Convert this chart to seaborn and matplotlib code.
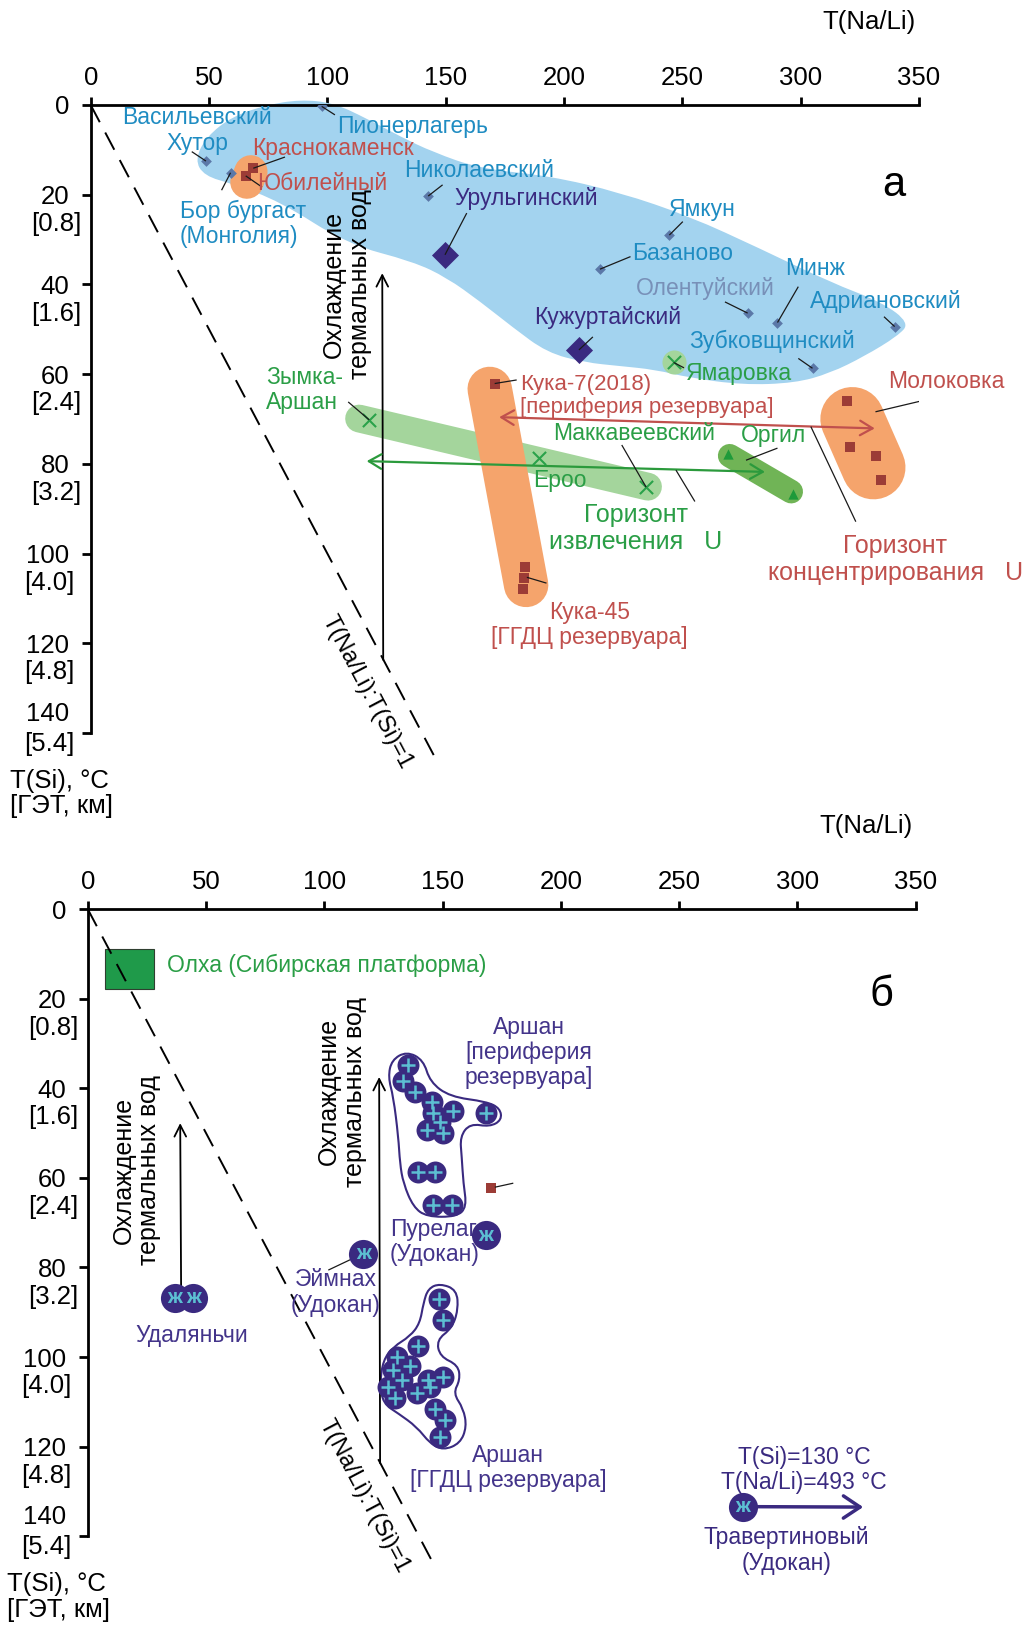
import numpy as np
import pandas as pd
import matplotlib
matplotlib.use("Agg")
import matplotlib.pyplot as plt
import matplotlib.patches as mpatches
from matplotlib.path import Path
import seaborn as sns

sns.set_theme(style="white")
plt.rcParams["font.family"] = ["Liberation Sans", "DejaVu Sans"]
plt.rcParams["text.color"] = "black"
plt.rcParams["axes.edgecolor"] = "black"

# ------------------------------------------------------------------ data
x_ticks = [0, 50, 100, 150, 200, 250, 300, 350]
y_ticks = [0, 20, 40, 60, 80, 100, 120, 140]
y_depth = ["", "[0.8]", "[1.6]", "[2.4]", "[3.2]", "[4.0]", "[4.8]", "[5.4]"]
ratio_line = [0, 147]          # T(Na/Li) = T(Si)

# panel a: small diamonds (Transbaikalia / Mongolia)
a_dia_names = ["Пионерлагерь", "Хутор", "Бор бургаст", "Николаевский", "Ямкун",
               "Базаново", "Олентуйский", "Минж", "Адриановский", "Зубковщинский"]
a_dia_x = [97.6, 48.7, 59.1, 142.6, 244.5, 215.2, 277.6, 290.2, 339.7, 305.0]
a_dia_y = [0.3, 12.5, 15.1, 20.3, 29.0, 36.6, 46.4, 48.5, 49.4, 58.7]
# panel a: large diamonds
a_big_names = ["Урульгинский", "Кужуртайский"]
a_big_x = [149.7, 206.3]
a_big_y = [33.4, 54.6]
# panel a: red squares
a_sq_names = ["Краснокаменск", "Юбилейный", "Кука-7", "Кука-45", "Кука-45", "Кука-45",
              "Молоковка", "Молоковка", "Молоковка", "Молоковка"]
a_sq_x = [68.7, 65.5, 170.7, 183.4, 183.0, 182.6, 319.7, 320.9, 332.0, 333.8]
a_sq_y = [14.1, 15.8, 62.1, 102.9, 105.5, 108.0, 65.9, 76.2, 78.3, 83.5]
# panel a: green crosses
a_x_names = ["Зымка-Аршан", "Ероо", "Маккавеевский", "Ямаровка"]
a_x_x = [117.7, 189.6, 234.7, 246.3]
a_x_y = [70.2, 78.8, 85.2, 57.4]
# panel a: triangles (Оргил)
a_tri_x = [269.5, 296.8]
a_tri_y = [77.7, 86.7]

# panel b: Аршан, periphery of reservoir
b_per_x = [135.2, 133.1, 138.3, 145.4, 146.1, 154.5, 148.9, 143.3, 150.3, 168.4,
           139.7, 146.8, 146.1, 153.8]
b_per_y = [34.8, 38.5, 40.8, 43.0, 45.6, 45.2, 47.5, 49.3, 50.1, 45.6,
           58.6, 58.6, 66.1, 66.1]
# panel b: Аршан, reservoir
b_res_x = [148.6, 150.0, 139.7, 130.6, 136.2, 129.2, 132.7, 127.0, 129.9, 144.0,
           150.3, 139.1, 144.7, 146.8, 151.0, 149.0]
b_res_y = [87.1, 91.7, 97.5, 99.9, 101.9, 102.9, 105.1, 106.6, 109.2, 105.1,
           104.4, 108.1, 106.6, 111.5, 114.1, 117.8]
# panel b: Udokan-type points (ж)
b_zh_names = ["Пурелаг", "Эймнах", "Удаляньчи", "Удаляньчи", "Травертиновый"]
b_zh_x = [168.3, 116.5, 36.9, 44.6, 276.8]
b_zh_y = [72.8, 76.9, 86.8, 86.8, 133.4]
# panel b: single red square, Олха range
b_sq_x = [170.3]
b_sq_y = [62.3]
olkha_x = [7.3, 28.0]
olkha_y = [9.0, 17.9]
travertine_arrow_x = [276.8, 327.8]

# ------------------------------------------------------------------ colours
C_BLUE_TXT = "#1f8cc2"
C_DIAM = "#5b78a8"
C_PURPLE = "#3a2a80"
C_PURPLE_TXT = "#43348a"
C_RED_TXT = "#c0504d"
C_RED_SQ = "#9c3c36"
C_GREEN_TXT = "#2a9e46"
C_GREEN_ARR = "#2b9a3c"
C_ORANGE = "#f5a46c"
C_BLUE_BLOB = "#a3d3ef"
C_LGREEN = "#a4d59c"
C_DGREEN = "#70b456"
C_CYAN = "#5cbfd2"
C_OLENT = "#7890b8"

FS_TICK = 18.5
FS_LAB = 16.5
FS_BIG = 18


def smooth_path(xs, ys):
    pts = np.column_stack([xs, ys])
    n = len(pts)
    mids = (pts + np.roll(pts, -1, axis=0)) / 2.0
    verts = [mids[-1]]
    codes = [Path.MOVETO]
    for i in range(n):
        verts += [pts[i], mids[i]]
        codes += [Path.CURVE3, Path.CURVE3]
    verts.append(mids[-1])
    codes.append(Path.CLOSEPOLY)
    return Path(verts, codes)


def setup(ax):
    ax.set_xlim(0, 350)
    ax.set_ylim(150, 0)
    ax.set_facecolor("none")
    ax.grid(False)
    for s in ["right", "bottom"]:
        ax.spines[s].set_visible(False)
    for s in ["left", "top"]:
        ax.spines[s].set_linewidth(2.0)
        ax.spines[s].set_color("black")
    ax.spines["left"].set_bounds(0, 140)
    ax.spines["top"].set_bounds(0, 350)
    ax.xaxis.set_ticks_position("top")
    ax.set_xticks(x_ticks)
    ax.set_xticklabels([str(v) for v in x_ticks])
    ax.set_yticks(y_ticks)
    # the last (140) label sits above its tick in the original -> drawn separately
    ax.set_yticklabels([str(v) if v != y_ticks[-1] else "" for v in y_ticks])
    ax.tick_params(axis="x", which="both", direction="out", length=5.5, width=2,
                   pad=5, labelsize=FS_TICK, top=True, bottom=False,
                   labeltop=True, labelbottom=False, color="black", labelcolor="black")
    ax.tick_params(axis="y", which="both", direction="out", length=6.5, width=2,
                   pad=9, labelsize=FS_TICK, left=True, right=False,
                   color="black", labelcolor="black")
    ax.set_xlabel("")
    ax.set_ylabel("")
    ax.annotate(str(y_ticks[-1]), xy=(0, y_ticks[-1]), xycoords="data",
                xytext=(-15.5, 14), textcoords="offset points", ha="right",
                va="center", fontsize=FS_TICK, annotation_clip=False)
    for v, d in zip(y_ticks, y_depth):
        if d:
            off = -25 if v < 100 else -29.5
            dy = -21 if v != y_ticks[-1] else -8
            ax.annotate(d, xy=(0, v), xycoords="data", xytext=(off, dy),
                        textcoords="offset points", ha="center", va="center",
                        fontsize=FS_TICK, annotation_clip=False)
    # dashed ratio line and its label
    ax.plot(ratio_line, ratio_line, color="black", lw=1.4, ls=(0, (10, 6)),
            zorder=3, clip_on=False)
    ax.text(116.6, 131.0, "T(Na/Li):T(Si)=1", rotation=-62.2, ha="center",
            va="center", fontsize=17, rotation_mode="anchor")
    # axis titles
    ax.text(329, -18.5, "T(Na/Li)", ha="center", va="center", fontsize=FS_TICK)
    ax.text(-34, 153.5, "T(Si), °C\n[ГЭТ, км]", ha="left", va="center",
            fontsize=FS_TICK, linespacing=1.1)
    # cooling arrow
    ax.annotate("", xy=(123.2, 37.5), xytext=(123.6, 123.7),
                arrowprops=dict(arrowstyle="->,head_length=0.55,head_width=0.28",
                                lw=1.3, color="black", shrinkA=0, shrinkB=0,
                                mutation_scale=15), zorder=4)


def leader(ax, p1, p2, color="#1a1a1a", lw=0.9):
    ax.plot([p1[0], p2[0]], [p1[1], p2[1]], color=color, lw=lw, zorder=6,
            solid_capstyle="butt")


fig = plt.figure(figsize=(10.26, 16.26), dpi=100)
W, H = 1026.0, 1626.0
ax_a = fig.add_axes([90.7 / W, 1 - 777.8 / H, 828.3 / W, 672.8 / H])
ax_b = fig.add_axes([87.7 / W, 1 - 1581.0 / H, 828.0 / W, 672.0 / H])

# ================================================================ PANEL A
ax = ax_a
setup(ax)

# blue field
blob_x = [44.0, 49, 60, 74.4, 88.4, 102.4, 116.6, 130.7, 144.6, 164.5, 194, 223.6,
          253, 282.8, 312.4, 334.5, 346, 341, 327, 312.4, 297.5, 275.4, 253, 238.4,
          223.6, 208.8, 192.8, 178.4, 164.5, 150.5, 136.2, 108.3, 80, 60, 48]
blob_y = [12.2, 7.0, 2.5, 0.0, -1.2, -0.5, 3.0, 7.0, 10.5, 14.2, 15.8, 19.5,
          24.8, 32.0, 39.5, 44.0, 48.6, 51.5, 56.0, 59.8, 62.0, 62.4, 60.8, 59.0,
          58.2, 57.4, 55.2, 49.6, 43.8, 38.5, 34.9, 31.0, 21.5, 17.6, 15.8]
ax.add_patch(mpatches.PathPatch(smooth_path(blob_x, blob_y), facecolor=C_BLUE_BLOB,
                                edgecolor="none", zorder=1, clip_on=False))

# bands (green and orange fields)
ax.plot([113.4, 235.5], [69.9, 85.1], color=C_LGREEN, lw=20, solid_capstyle="round",
        zorder=1.2)
ax.plot([270.0, 296.0], [78.2, 86.2], color=C_DGREEN, lw=17, solid_capstyle="round",
        zorder=1.2)
ax.plot([168.6, 184.0], [63.3, 107.0], color=C_ORANGE, lw=32, solid_capstyle="round",
        zorder=1.4)
ax.plot([321.8, 330.8], [70.0, 80.8], color=C_ORANGE, lw=46, solid_capstyle="round",
        zorder=1.4)
ax.plot([67.7, 66.0], [14.9, 17.2], color=C_ORANGE, lw=24, solid_capstyle="round",
        zorder=1.4)
ax.scatter([246.3], [57.4], s=300, color=C_LGREEN, zorder=1.5, linewidths=0)

# arrows
ax.annotate("", xy=(172.6, 69.6), xytext=(331.3, 72.1),
            arrowprops=dict(arrowstyle="<->,head_length=0.6,head_width=0.35",
                            lw=1.6, color=C_RED_TXT, shrinkA=0, shrinkB=0,
                            mutation_scale=15), zorder=4)
ax.annotate("", xy=(116.6, 79.4), xytext=(284.9, 81.8),
            arrowprops=dict(arrowstyle="<->,head_length=0.6,head_width=0.35",
                            lw=1.6, color=C_GREEN_ARR, shrinkA=0, shrinkB=0,
                            mutation_scale=15), zorder=4)

# markers
sns.scatterplot(x=a_dia_x, y=a_dia_y, ax=ax, marker="D", s=30, color=C_DIAM,
                linewidth=0, legend=False, zorder=5)
sns.scatterplot(x=a_big_x, y=a_big_y, ax=ax, marker="D", s=190, color=C_PURPLE,
                linewidth=0, legend=False, zorder=5)
sns.scatterplot(x=a_sq_x, y=a_sq_y, ax=ax, marker="s", s=45, color=C_RED_SQ,
                linewidth=0, legend=False, zorder=5)
sns.scatterplot(x=a_tri_x, y=a_tri_y, ax=ax, marker="^", s=55, color="#1e9a3a",
                linewidth=0, legend=False, zorder=5)
ax.scatter(a_x_x, a_x_y, marker="x", s=90, color="#2aa24a", linewidths=1.5, zorder=5)

# labels
labels_a = [
    ("Васильевский", 44.9, 2.7, C_BLUE_TXT, "center", FS_LAB),
    ("Пионерлагерь", 136.2, 4.8, C_BLUE_TXT, "center", FS_LAB),
    ("Хутор", 45.1, 8.6, C_BLUE_TXT, "center", FS_LAB),
    ("Краснокаменск", 102.4, 9.7, C_RED_TXT, "center", FS_LAB),
    ("Юбилейный", 97.7, 17.5, C_RED_TXT, "center", FS_LAB),
    ("Бор бургаст\n(Монголия)", 37.7, 26.5, C_BLUE_TXT, "left", FS_LAB),
    ("Николаевский", 164.0, 14.5, C_BLUE_TXT, "center", FS_LAB),
    ("Урульгинский", 183.9, 20.8, C_PURPLE, "center", FS_LAB),
    ("Кужуртайский", 218.3, 47.4, C_PURPLE, "center", FS_LAB),
    ("Ямкун", 258.3, 23.4, C_BLUE_TXT, "center", FS_LAB),
    ("Базаново", 250.2, 33.2, C_BLUE_TXT, "center", FS_LAB),
    ("Олентуйский", 259.8, 41.0, C_OLENT, "center", FS_LAB),
    ("Минж", 306.0, 36.5, C_BLUE_TXT, "center", FS_LAB),
    ("Адриановский", 336.0, 43.7, C_BLUE_TXT, "center", FS_LAB),
    ("Зубковщинский", 287.9, 52.8, C_BLUE_TXT, "center", FS_LAB),
    ("Ямаровка", 273.9, 59.8, C_GREEN_TXT, "center", FS_LAB),
    ("Кука-7(2018)\n[периферия резервуара]", 181.4, 64.9, C_RED_TXT, "left", 16),
    ("Молоковка", 361.5, 61.7, C_RED_TXT, "center", FS_LAB),
    ("Маккавеевский", 229.5, 73.2, C_GREEN_TXT, "center", FS_LAB),
    ("Оргил", 288.7, 73.6, C_GREEN_TXT, "center", FS_LAB),
    ("Ероо", 198.4, 83.8, C_GREEN_TXT, "center", FS_LAB),
    ("Кука-45\n[ГГДЦ резервуара]", 210.9, 116.0, C_RED_TXT, "center", FS_LAB),
    ("Зымка-\nАршан", 74.0, 63.6, C_GREEN_TXT, "left", FS_LAB),
]
for t, x, y, c, ha, fs in labels_a:
    ax.text(x, y, t, color=c, ha=ha, va="center", fontsize=fs, zorder=7,
            multialignment=ha, linespacing=1.12)
ax.text(230.4, 94.5, "Горизонт\nизвлечения   U", color=C_GREEN_TXT, ha="center",
        va="center", fontsize=FS_BIG, linespacing=1.15, zorder=7)
ax.text(340.0, 101.4, "Горизонт\nконцентрирования   U", color=C_RED_TXT, ha="center",
        va="center", fontsize=FS_BIG, linespacing=1.15, zorder=7)
ax.text(339.5, 17.8, "а", ha="center", va="center", fontsize=30)
ax.text(108.4, 40.0, "Охлаждение\nтермальных вод", rotation=90, ha="center",
        va="center", fontsize=18, multialignment="center", linespacing=1.1)

leaders_a = [
    ((103.2, 2.2), (97.6, 0.3)), ((42.7, 10.4), (48.7, 12.5)),
    ((82.1, 11.6), (68.7, 14.1)), ((72.4, 18.3), (65.5, 15.8)),
    ((55.3, 19.0), (59.1, 15.1)), ((148.7, 17.8), (142.6, 20.3)),
    ((158.9, 24.1), (149.7, 33.4)), ((212.2, 51.7), (206.3, 54.6)),
    ((250.2, 26.0), (244.5, 29.0)), ((228.1, 33.8), (215.2, 36.6)),
    ((268.0, 43.9), (277.6, 46.4)), ((299.0, 40.5), (290.2, 48.5)),
    ((335.2, 47.2), (339.7, 49.4)), ((299.0, 56.5), (305.0, 58.7)),
    ((250.7, 58.6), (246.3, 57.4)), ((180.0, 61.3), (170.7, 62.1)),
    ((351.6, 65.9), (331.6, 68.4)), ((224.4, 75.8), (234.7, 85.2)),
    ((290.2, 76.5), (276.9, 79.2)), ((255.3, 88.4), (247.3, 81.4)),
    ((323.3, 92.9), (304.3, 71.7)), ((192.6, 106.6), (184.3, 105.3)),
    ((108.8, 66.2), (117.7, 70.2)),
]
for p1, p2 in leaders_a:
    leader(ax, p1, p2)

# ================================================================ PANEL B
ax = ax_b
setup(ax)

ax.add_patch(mpatches.Rectangle((olkha_x[0], olkha_y[0]), olkha_x[1] - olkha_x[0],
                                olkha_y[1] - olkha_y[0], facecolor="#1f9a4a",
                                edgecolor="#2f3f30", lw=0.8, zorder=2))

per_out_x = [128.5, 134.8, 141.9, 144.7, 153.1, 168.6, 174.3, 175.0, 170.0, 161.6, 157.4,
             158.1, 158.8, 160.2, 156.0, 143.3, 137.6, 133.4, 132.0, 131.3, 129.2, 127.0]
per_out_y = [33.7, 31.8, 33.7, 38.6, 41.9, 43.0, 44.5, 47.1, 48.6, 47.9, 50.8,
             55.3, 61.2, 66.5, 68.7, 68.7, 66.5, 61.2, 56.8, 50.8, 41.9, 37.5]
res_out_x = [143.9, 148.9, 156.0, 156.6, 153.9, 147.5, 148.9, 156.6, 157.4, 154.5, 158.8,
             160.2, 157.4, 150.3, 144.7, 139.1, 131.3, 124.9, 123.5, 124.9, 129.2, 136.2,
             140.4, 141.9]
res_out_y = [84.7, 83.6, 85.0, 89.5, 93.6, 96.2, 99.9, 101.8, 105.1, 108.1, 111.5,
             115.6, 119.3, 120.8, 119.3, 115.6, 112.6, 110.4, 105.9, 100.7, 97.7, 95.4,
             92.5, 88.0]
for ox, oy in [(per_out_x, per_out_y), (res_out_x, res_out_y)]:
    ax.add_patch(mpatches.PathPatch(smooth_path(ox, oy), facecolor="none",
                                    edgecolor=C_PURPLE, lw=1.5, zorder=2))

# arrows
ax.annotate("", xy=(39.1, 47.8), xytext=(39.5, 86.0),
            arrowprops=dict(arrowstyle="->,head_length=0.55,head_width=0.28",
                            lw=1.3, color="black", shrinkA=0, shrinkB=0,
                            mutation_scale=15), zorder=4)
ax.annotate("", xy=(travertine_arrow_x[1], 133.5), xytext=(travertine_arrow_x[0], 133.4),
            arrowprops=dict(arrowstyle="->,head_length=0.6,head_width=0.4",
                            lw=2.5, color=C_PURPLE, shrinkA=0, shrinkB=0,
                            mutation_scale=20), zorder=4)

sns.scatterplot(x=b_per_x + b_res_x, y=b_per_y + b_res_y, ax=ax, marker="o", s=250,
                color=C_PURPLE, linewidth=0, legend=False, zorder=5)
ax.scatter(b_per_x + b_res_x, b_per_y + b_res_y, marker="+", s=110, color=C_CYAN,
           linewidths=1.8, zorder=6)
sns.scatterplot(x=b_zh_x, y=b_zh_y, ax=ax, marker="o", s=440, color=C_PURPLE,
                linewidth=0, legend=False, zorder=7)
for x, y in zip(b_zh_x, b_zh_y):
    ax.text(x, y, "ж", color=C_CYAN, ha="center", va="center", fontsize=15,
            fontweight="bold", zorder=8)
sns.scatterplot(x=b_sq_x, y=b_sq_y, ax=ax, marker="s", s=45, color=C_RED_SQ,
                linewidth=0, legend=False, zorder=5)
leader(ax, (172.1, 62.1), (179.9, 61.2))
leader(ax, (101.7, 80.6), (116.5, 76.9))

labels_b = [
    ("Олха (Сибирская платформа)", 33.4, 12.5, C_GREEN_TXT, "left"),
    ("Аршан\n[периферия\nрезервуара]", 186.5, 32.0, C_PURPLE_TXT, "center"),
    ("Пурелаг\n(Удокан)", 127.8, 74.3, C_PURPLE_TXT, "left"),
    ("Эймнах\n(Удокан)", 104.9, 85.6, C_PURPLE_TXT, "center"),
    ("Удаляньчи", 44.0, 95.1, C_PURPLE_TXT, "center"),
    ("Аршан\n[ГГДЦ резервуара]", 177.7, 124.7, C_PURPLE_TXT, "center"),
    ("T(Si)=130 °C\nT(Na/Li)=493 °C", 302.8, 125.2, C_PURPLE, "center"),
    ("Травертиновый\n(Удокан)", 295.4, 143.2, C_PURPLE, "center"),
]
for t, x, y, c, ha in labels_b:
    ax.text(x, y, t, color=c, ha=ha, va="center", fontsize=FS_LAB, zorder=6,
            multialignment=ha, linespacing=1.12)
ax.text(335.4, 19.2, "б", ha="center", va="center", fontsize=30)
ax.text(107.4, 40.8, "Охлаждение\nтермальных вод", rotation=90, ha="center",
        va="center", fontsize=18, multialignment="center", linespacing=1.1)
ax.text(20.6, 58.3, "Охлаждение\nтермальных вод", rotation=90, ha="center",
        va="center", fontsize=18, multialignment="center", linespacing=1.1)

fig.savefig("out.png", dpi=100)
